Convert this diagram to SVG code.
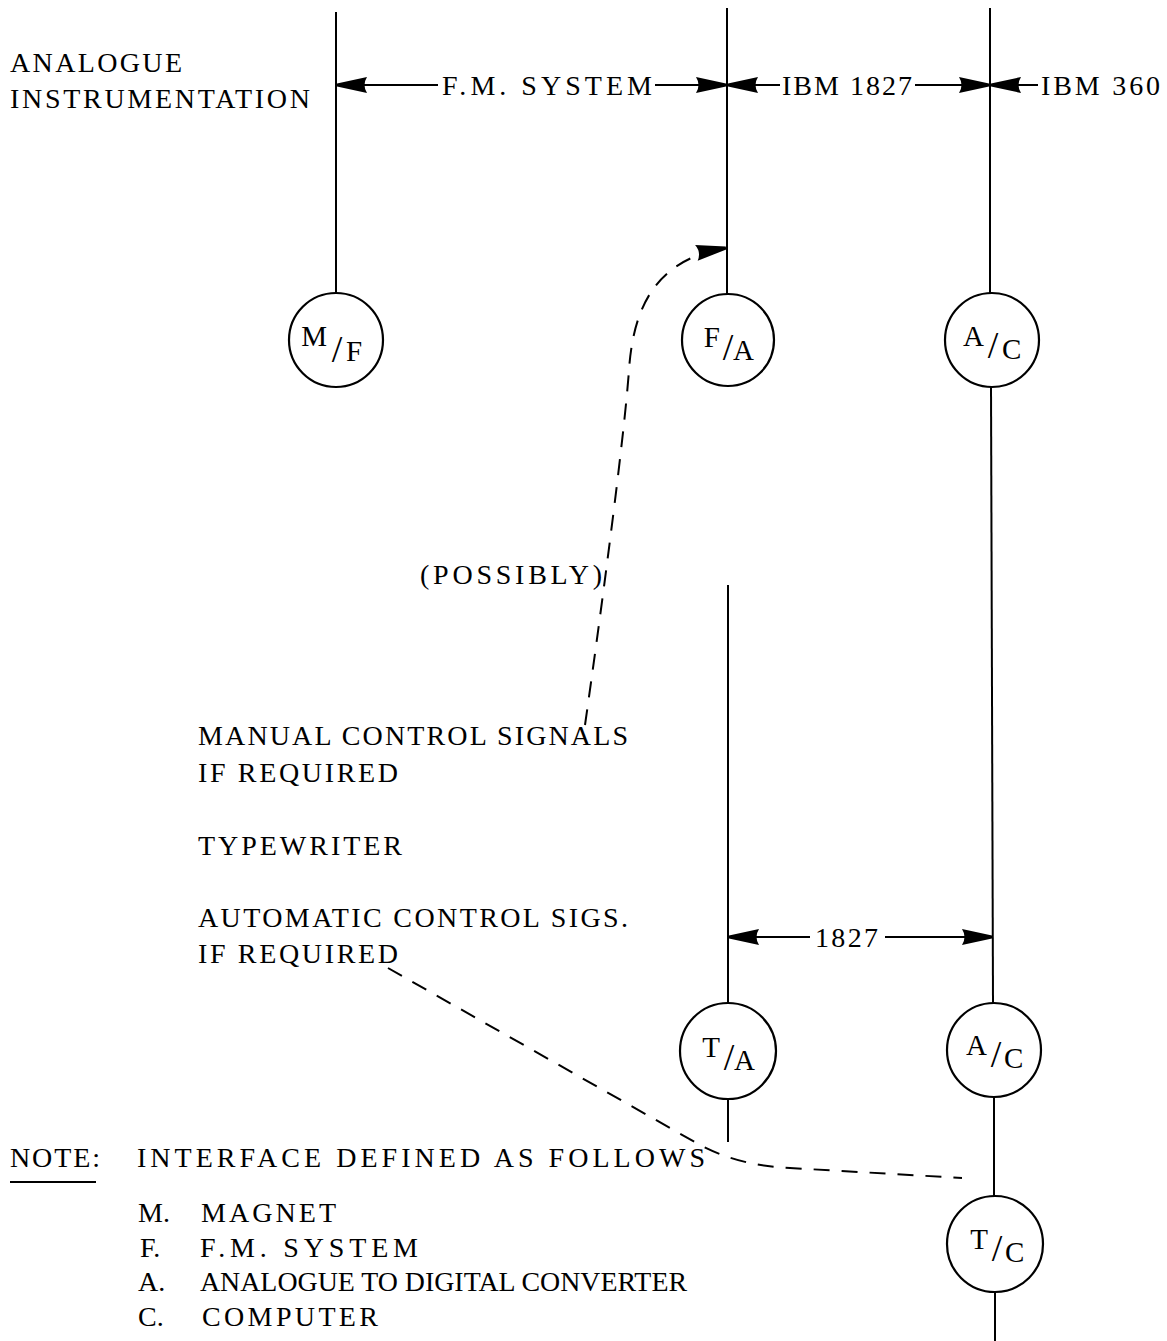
<svg xmlns="http://www.w3.org/2000/svg" width="1167" height="1341" viewBox="0 0 1167 1341">
  <defs>
    <marker id="head" markerUnits="userSpaceOnUse" markerWidth="34" markerHeight="20" viewBox="0 -10 32 20" refX="30" refY="0" orient="auto">
      <path d="M 0 -8 L 30 -1.5 L 30 1.5 L 0 8 Q 5 0 0 -8 Z" fill="#000"/>
    </marker>
    <style>
      .ln { stroke: #000; stroke-width: 2; fill: none; }
      .dash { stroke: #000; stroke-width: 2; fill: none; stroke-dasharray: 16 12; }
      .node circle { fill: #fff; stroke: #000; stroke-width: 2.2; }
      text { font-family: "Liberation Serif", "Times New Roman", serif; font-size: 28px; fill: #000; }
      .node text { font-size: 29px; }
      .node .sl { font-size: 38px; }
    </style>
  </defs>

  <!-- signal lines and dimension arrows -->
  <g id="connectors">
    <line class="ln" x1="336" y1="12" x2="336" y2="293"/>
    <line class="ln" x1="727" y1="8" x2="727" y2="294"/>
    <line class="ln" x1="990" y1="8" x2="990" y2="293"/>
    <line class="ln" x1="991" y1="387" x2="993" y2="1003"/>
    <line class="ln" x1="728" y1="585" x2="728" y2="1003"/>
    <line class="ln" x1="728" y1="1099" x2="728" y2="1142"/>
    <line class="ln" x1="994" y1="1097" x2="994" y2="1196"/>
    <line class="ln" x1="995" y1="1292" x2="995" y2="1341"/>

    <line class="ln" x1="438" y1="85" x2="337" y2="85" marker-end="url(#head)"/>
    <line class="ln" x1="655" y1="85" x2="726" y2="85" marker-end="url(#head)"/>
    <line class="ln" x1="780" y1="85" x2="728" y2="85" marker-end="url(#head)"/>
    <line class="ln" x1="915" y1="85" x2="989" y2="85" marker-end="url(#head)"/>
    <line class="ln" x1="1038" y1="85" x2="991" y2="85" marker-end="url(#head)"/>

    <line class="ln" x1="810" y1="937" x2="729" y2="937" marker-end="url(#head)"/>
    <line class="ln" x1="885" y1="937" x2="992" y2="937" marker-end="url(#head)"/>

    <path class="dash" d="M 585 725 C 600 620, 624 440, 629 370 C 634 295, 665 258, 726 248" marker-end="url(#head)"/>
    <path class="dash" d="M 388 968 L 700 1145 Q 740 1166 790 1168 L 962 1178"/>
  </g>

  <!-- interface nodes -->
  <g id="node-mf" class="node">
    <circle cx="336" cy="340" r="47"/>
    <text x="327" y="346" text-anchor="end">M</text>
    <text class="sl" x="337" y="362" text-anchor="middle">/</text>
    <text x="346" y="361">F</text>
  </g>
  <g id="node-fa" class="node">
    <circle cx="728" cy="340" r="46"/>
    <text x="720" y="347" text-anchor="end">F</text>
    <text class="sl" x="728" y="360" text-anchor="middle">/</text>
    <text x="733" y="360">A</text>
  </g>
  <g id="node-ac" class="node">
    <circle cx="992" cy="340" r="47"/>
    <text x="984" y="346" text-anchor="end">A</text>
    <text class="sl" x="993" y="358" text-anchor="middle">/</text>
    <text x="1002" y="359">C</text>
  </g>
  <g id="node-ta" class="node">
    <circle cx="728" cy="1051" r="48"/>
    <text x="720" y="1057" text-anchor="end">T</text>
    <text class="sl" x="729" y="1070" text-anchor="middle">/</text>
    <text x="734" y="1070">A</text>
  </g>
  <g id="node-ac2" class="node">
    <circle cx="994" cy="1050" r="47"/>
    <text x="987" y="1055" text-anchor="end">A</text>
    <text class="sl" x="996" y="1067" text-anchor="middle">/</text>
    <text x="1004" y="1068">C</text>
  </g>
  <g id="node-tc" class="node">
    <circle cx="995" cy="1244" r="48"/>
    <text x="988" y="1249" text-anchor="end">T</text>
    <text class="sl" x="997" y="1261" text-anchor="middle">/</text>
    <text x="1005" y="1262">C</text>
  </g>

  <!-- labels -->
  <g id="labels">
    <text x="10" y="72" textLength="172" lengthAdjust="spacing">ANALOGUE</text>
    <text x="10" y="108" textLength="300" lengthAdjust="spacing">INSTRUMENTATION</text>
    <text x="442" y="95" textLength="210" lengthAdjust="spacing">F.M. SYSTEM</text>
    <text x="782" y="95" textLength="130" lengthAdjust="spacing">IBM 1827</text>
    <text x="1041" y="95" textLength="119" lengthAdjust="spacing">IBM 360</text>
    <text x="420" y="584" textLength="182" lengthAdjust="spacing">(POSSIBLY)</text>
    <text x="198" y="745" textLength="430" lengthAdjust="spacing">MANUAL CONTROL SIGNALS</text>
    <text x="198" y="782" textLength="200" lengthAdjust="spacing">IF REQUIRED</text>
    <text x="198" y="855" textLength="204" lengthAdjust="spacing">TYPEWRITER</text>
    <text x="198" y="927" textLength="430" lengthAdjust="spacing">AUTOMATIC CONTROL SIGS.</text>
    <text x="198" y="963" textLength="200" lengthAdjust="spacing">IF REQUIRED</text>
    <text x="815" y="947" textLength="63" lengthAdjust="spacing">1827</text>
  </g>

  <!-- key -->
  <g id="note">
    <text x="10" y="1167" textLength="90" lengthAdjust="spacing">NOTE:</text>
    <line class="ln" x1="10" y1="1182" x2="96" y2="1182" stroke-width="1.5"/>
    <text x="137" y="1167" textLength="568" lengthAdjust="spacing">INTERFACE DEFINED AS FOLLOWS</text>
    <text x="138" y="1222">M.</text>
    <text x="201" y="1222" textLength="135" lengthAdjust="spacing">MAGNET</text>
    <text x="140" y="1257">F.</text>
    <text x="200" y="1257" textLength="218" lengthAdjust="spacing">F.M. SYSTEM</text>
    <text x="138" y="1291">A.</text>
    <text x="200" y="1291" textLength="487" lengthAdjust="spacingAndGlyphs">ANALOGUE TO DIGITAL CONVERTER</text>
    <text x="138" y="1326">C.</text>
    <text x="202" y="1326" textLength="176" lengthAdjust="spacing">COMPUTER</text>
  </g>
</svg>
